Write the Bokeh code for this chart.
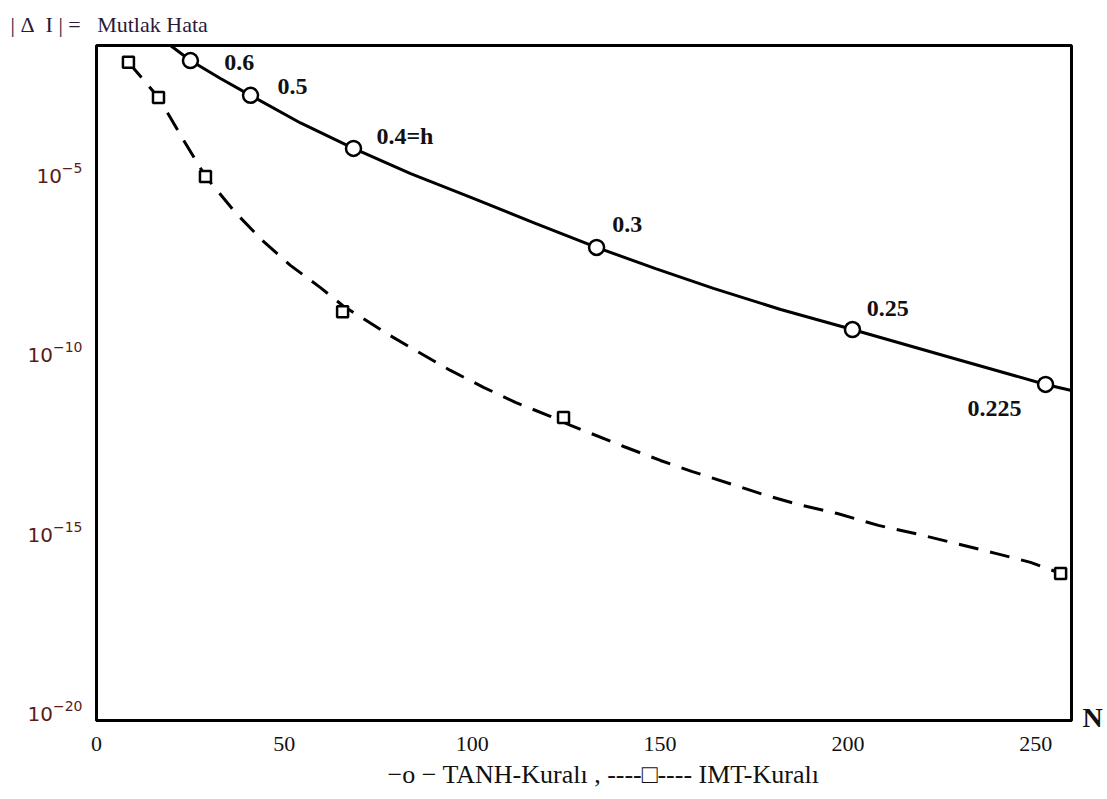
from bokeh.plotting import figure
from bokeh.models import (FixedTicker, Range1d, ColumnDataSource, LogAxis,
                          CustomJSTickFormatter)
from bokeh.core.properties import value
from bokeh.embed import file_html
from bokeh.resources import INLINE

# ---- data (N, log10 of absolute error) ----
# TANH rule: marker points and their step sizes h
tanh_N = [25.0, 41.0, 68.4, 133.1, 201.2, 252.6]
tanh_log_err = [-1.88, -2.85, -4.33, -7.09, -9.38, -10.91]
tanh_h = ["0.6", "0.5", "0.4=h", "0.3", "0.25", "0.225"]
# TANH curve
tanh_curve_N = [19.7, 25.0, 33.0, 41.0, 54.3, 68.4, 83.6, 100.3, 116.8, 133.1,
                148.8, 164.2, 182.1, 201.2, 227.3, 252.6, 259.5]
tanh_curve_log_err = [-1.46, -1.88, -2.38, -2.85, -3.62, -4.33, -5.03, -5.72, -6.42,
                      -7.09, -7.68, -8.23, -8.82, -9.38, -10.16, -10.91, -11.08]
# h label anchors (left edge, vertical middle)
tanh_label_N = [34.0, 48.2, 74.5, 137.3, 205.0, 231.8]
tanh_label_log_err = [-1.93, -2.60, -3.97, -6.45, -8.79, -11.58]

# IMT rule: marker points
imt_N = [8.5, 16.5, 29.0, 65.5, 124.3, 256.6]
imt_log_err = [-1.93, -2.91, -5.11, -8.88, -11.83, -16.18]
# IMT curve
imt_curve_N = [8.52, 16.5, 22.6, 29.0, 37.0, 44.2, 51.6, 59.6, 65.5, 77.7, 85.4, 94.2,
               103.0, 111.5, 120.8, 126.2, 140.3, 150.1, 158.6, 169.3, 178.1, 186.9,
               197.2, 208.1, 218.8, 228.6, 239.3, 248.6, 256.6]
imt_curve_log_err = [-1.93, -2.91, -4.00, -5.11, -6.12, -6.90, -7.59, -8.21, -8.71,
                     -9.52, -9.99, -10.52, -10.99, -11.41, -11.80, -12.05, -12.64,
                     -13.03, -13.34, -13.70, -14.00, -14.26, -14.51, -14.84, -15.09,
                     -15.34, -15.62, -15.87, -16.18]

x_ticks = [0, 50, 100, 150, 200, 250]
y_tick_exponents = [-20, -15, -10, -5]
NB = "\u00a0"
title_text = "|" + NB + "Δ" + NB * 2 + "I" + NB + "|" + NB + "=" + NB * 3 + "Mutlak Hata"
legend_text = NB * 6 + "−o − TANH-Kuralı , ----□---- IMT-Kuralı"
axis_end_label = "N"


def to_err(logs):
    return [10.0 ** e for e in logs]


p = figure(width=1107, height=799, y_axis_type="log", output_backend="svg",
           toolbar_location=None,
           x_range=Range1d(0, 259.5), y_range=Range1d(10 ** -20.28, 10 ** -1.46),
           min_border_left=96, min_border_right=36, min_border_top=45, min_border_bottom=79)

p.title.text = title_text
p.title.align = "left"
p.title.offset = -86
p.title.standoff = 18
p.title.text_font = "Liberation Serif"
p.title.text_font_style = "normal"
p.title.text_font_size = "22px"
p.title.text_color = "#2a1a3a"

p.xgrid.visible = False
p.ygrid.visible = False
p.background_fill_color = "white"
p.border_fill_color = "white"
p.outline_line_color = "black"
p.outline_line_width = 3

for ax in (p.xaxis[0], p.yaxis[0]):
    ax.axis_line_color = "black"
    ax.axis_line_width = 3
    ax.major_tick_line_color = None
    ax.minor_tick_line_color = None

p.xaxis.ticker = FixedTicker(ticks=x_ticks)
p.xaxis.major_label_text_font = "Liberation Serif"
p.xaxis.major_label_text_font_size = "22px"
p.xaxis.major_label_text_color = "#111111"
p.xaxis.major_label_standoff = 10
p.xaxis.axis_label = legend_text
p.xaxis.axis_label_text_font = "Liberation Serif"
p.xaxis.axis_label_text_font_style = "normal"
p.xaxis.axis_label_text_font_size = "26px"
p.xaxis.axis_label_text_color = "#111111"
p.xaxis.axis_label_standoff = 6

p.yaxis.ticker = FixedTicker(ticks=[10.0 ** e for e in y_tick_exponents])
p.yaxis.major_label_text_font = "DejaVu Sans"
p.yaxis.major_label_text_font_size = "20px"
p.yaxis.major_label_text_color = "#5a1c16"
p.yaxis.major_label_standoff = 8

# "N" at the right end of the N axis
right = LogAxis(ticker=FixedTicker(ticks=[10 ** -20.2]),
                formatter=CustomJSTickFormatter(code="return '%s';" % axis_end_label))
right.axis_line_color = None
right.major_tick_line_color = None
right.minor_tick_line_color = None
right.major_label_standoff = 5
right.major_label_text_font = "Liberation Serif"
right.major_label_text_font_style = "bold"
right.major_label_text_font_size = "28px"
right.major_label_text_color = "#111111"
p.add_layout(right, "right")

# curves
p.line(tanh_curve_N, to_err(tanh_curve_log_err), line_color="black", line_width=3)
p.line(imt_curve_N, to_err(imt_curve_log_err), line_color="black", line_width=3,
       line_dash="20 12")

# markers
p.scatter(tanh_N, to_err(tanh_log_err), marker="circle", size=15, fill_color="white",
          line_color="black", line_width=2.5)
p.scatter(imt_N, to_err(imt_log_err), marker="square", size=11, fill_color="white",
          line_color="black", line_width=2.5)

src = ColumnDataSource(dict(x=tanh_label_N, y=to_err(tanh_label_log_err), t=tanh_h))
p.text(x="x", y="y", text="t", source=src, text_font=value("Liberation Serif"),
       text_font_style="bold", text_font_size="24px", text_color="#111111",
       text_align="left", text_baseline="middle")

open("out.html", "w").write(file_html(p, INLINE))
